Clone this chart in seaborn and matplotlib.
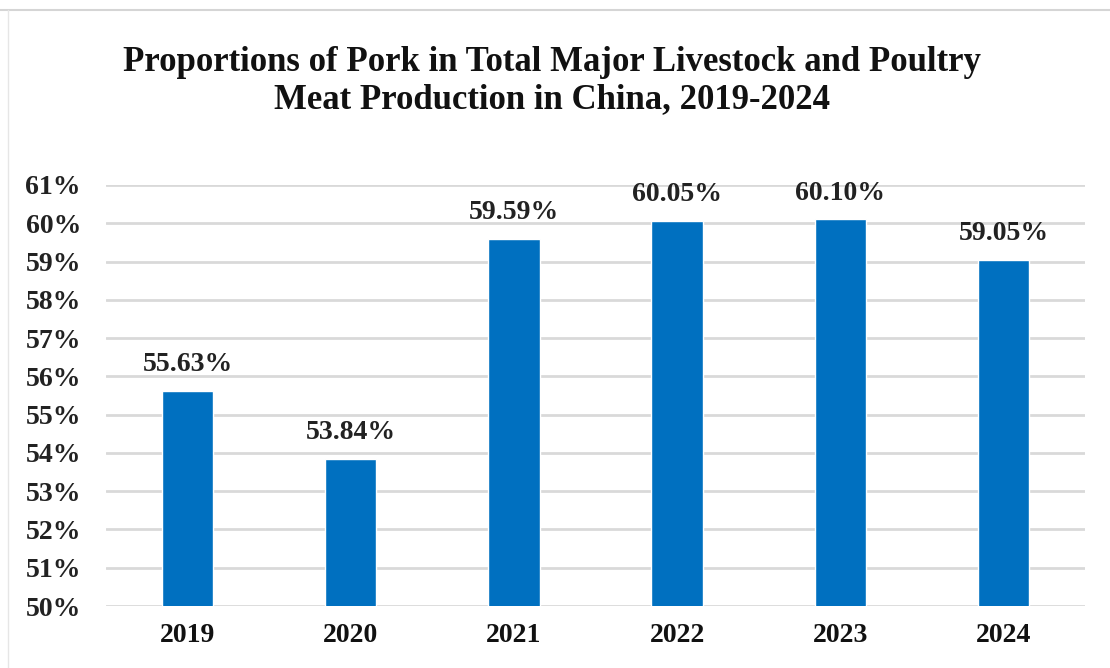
import matplotlib
matplotlib.use("Agg")
import matplotlib.pyplot as plt
import seaborn as sns
import pandas as pd
from matplotlib.lines import Line2D

years = ["2019", "2020", "2021", "2022", "2023", "2024"]
shares = [55.63, 53.84, 59.59, 60.05, 60.10, 59.05]
labels = ["55.63%", "53.84%", "59.59%", "60.05%", "60.10%", "59.05%"]
yticks = list(range(50, 62))

sns.set_theme(style="white")
plt.rcParams['font.family'] = ['Liberation Serif', 'DejaVu Serif']

df = pd.DataFrame({"year": years, "share": shares})

fig = plt.figure(figsize=(11.10, 6.68), dpi=100)
ax = fig.add_axes([106/1110, 62/668, (1085-106)/1110, (606-185)/668])

# partial frame: top and left edges
fig.lines.append(Line2D([0, 1], [1 - 9.5/668, 1 - 9.5/668], transform=fig.transFigure,
                        color="#D5D5D5", linewidth=1.5))
fig.lines.append(Line2D([8/1110, 8/1110], [0, 1 - 9.5/668], transform=fig.transFigure,
                        color="#E6E6E6", linewidth=1.0))

sns.barplot(data=df, x="year", y="share", color="#0070C0", saturation=1,
            width=0.315, ax=ax, zorder=3)

ax.set_ylim(50, 61)
ax.set_xlim(-0.5, 5.5)
ax.set_yticks(yticks)
ax.set_yticklabels([f"{v}%" for v in yticks], fontsize=20, fontweight="bold", color="#222222")
ax.set_xticklabels(years, fontsize=20, fontweight="bold", color="#111111")
ax.tick_params(axis="x", length=0, pad=12)
ax.tick_params(axis="y", length=0, pad=18)
ax.set_xlabel("")
ax.set_ylabel("")
ax.grid(axis="y", color="#D9D9D9", linewidth=2, zorder=0)
ax.set_axisbelow(True)
for s in ax.spines.values():
    s.set_visible(False)

for i, (v, lab) in enumerate(zip(shares, labels)):
    ax.annotate(lab, (i, v), xytext=(0, 19), textcoords="offset points",
                ha="center", va="center", fontsize=20, fontweight="bold", color="#222222")

fig.text(552/1110, 1 - 81/668, "Proportions of Pork in Total Major Livestock and Poultry\nMeat Production in China, 2019-2024",
         ha="center", va="center", fontsize=25, fontweight="bold", linespacing=1.15, color="#111111")

fig.savefig("out.png", dpi=100, facecolor="white")
